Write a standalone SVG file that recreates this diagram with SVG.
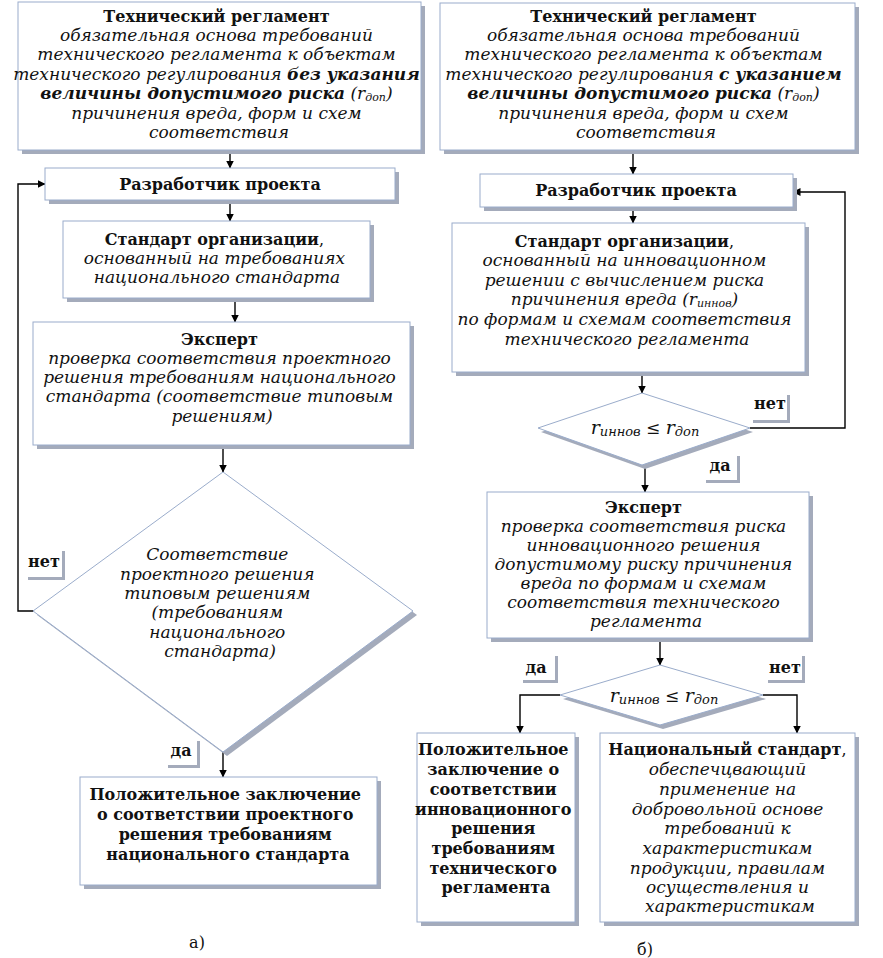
<svg xmlns="http://www.w3.org/2000/svg" width="883" height="958" viewBox="0 0 883 958">
<defs>
<style>
.box{fill:#fff;stroke:#9aaccb;stroke-width:1}
.sh{fill:#a4abbb}
.t{font-family:"DejaVu Serif","Liberation Serif",serif;font-size:16px;text-anchor:middle;fill:#111}
.b{font-weight:bold}
.i{font-style:italic;font-size:17px}
.sub{font-size:11px}
.lbl{font-family:"DejaVu Serif","Liberation Serif",serif;font-size:16px;font-weight:bold;text-anchor:middle;fill:#111}
.c{stroke:#000;stroke-width:1.4;fill:none}
.ca{stroke:#000;stroke-width:1.4;fill:none;marker-end:url(#ah)}
</style>
<marker id="ah" markerWidth="8" markerHeight="9" refX="7.5" refY="4.5" orient="auto" markerUnits="userSpaceOnUse">
<path d="M0,0.5 L8,4.5 L0,8.5 Z" fill="#000"/>
</marker>
</defs>
<rect width="883" height="958" fill="#fff"/>

<g id="connectors">
<path class="ca" d="M230,150 V168"/>
<path class="ca" d="M230,200 V221"/>
<path class="ca" d="M235,298 V322"/>
<path class="ca" d="M223,445 V472"/>
<path class="ca" d="M35,611 H18 V184 H45"/>
<path class="ca" d="M223,752 V777"/>
<path class="ca" d="M633,150 V174"/>
<path class="ca" d="M633,207 V223"/>
<path class="ca" d="M642,372 V393"/>
<path class="ca" d="M750,428 H845 V192 H793"/>
<path class="ca" d="M645,465 V492"/>
<path class="ca" d="M660,638 V665"/>
<path class="ca" d="M560,695 H520 V733"/>
<path class="ca" d="M763,695 H797 V733"/>
</g>

<g id="a-tech-reg">
<rect class="sh" x="22" y="6" width="403" height="148"/>
<rect class="box" x="18" y="2" width="403" height="148"/>
<text class="t"><tspan class="b" x="219" y="22">Технический регламент</tspan>
<tspan class="i" x="219" y="41">обязательная основа требований</tspan>
<tspan class="i" x="219" y="60">технического регламента к объектам</tspan>
<tspan class="i" x="219" y="80">технического регулирования <tspan class="b">без указания</tspan></tspan>
<tspan class="i" x="219" y="99"><tspan class="b">величины допустимого риска</tspan> (r<tspan class="sub" dy="2">доп</tspan><tspan dy="-2">)</tspan></tspan>
<tspan class="i" x="219" y="119">причинения вреда, форм и схем</tspan>
<tspan class="i" x="219" y="138">соответствия</tspan></text>
</g>

<g id="a-developer">
<rect class="sh" x="49" y="172" width="350" height="32"/>
<rect class="box" x="45" y="168" width="350" height="32"/>
<text class="t b" x="220" y="190">Разработчик проекта</text>
</g>

<g id="a-org-standard">
<rect class="sh" x="67" y="225" width="307" height="77"/>
<rect class="box" x="63" y="221" width="307" height="77"/>
<text class="t"><tspan x="217" y="245"><tspan class="b">Стандарт организации</tspan>,</tspan>
<tspan class="i" x="217" y="264">основанный на требованиях</tspan>
<tspan class="i" x="217" y="283">национального стандарта</tspan></text>
</g>

<g id="a-expert">
<rect class="sh" x="37" y="326" width="377" height="123"/>
<rect class="box" x="33" y="322" width="377" height="123"/>
<text class="t"><tspan class="b" x="222" y="345">Эксперт</tspan>
<tspan class="i" x="222" y="364">проверка соответствия проектного</tspan>
<tspan class="i" x="222" y="383">решения требованиям национального</tspan>
<tspan class="i" x="222" y="402">стандарта (соответствие типовым</tspan>
<tspan class="i" x="222" y="422">решениям)</tspan></text>
</g>

<g id="a-decision">
<polygon class="sh" points="227,476 417,615 227,756 37,615"/>
<polygon class="box" points="223,472 413,611 223,752 33,611"/>
<text class="t i"><tspan x="220" y="560">Соответствие</tspan>
<tspan x="220" y="580">проектного решения</tspan>
<tspan x="220" y="599">типовым решениям</tspan>
<tspan x="220" y="618">(требованиям</tspan>
<tspan x="220" y="638">национального</tspan>
<tspan x="220" y="657">стандарта)</tspan></text>
</g>

<g id="a-no-label">
<rect class="sh" x="28" y="551" width="37" height="29"/>
<rect x="25" y="548" width="37" height="29" fill="#fff"/>
<text class="lbl" x="44" y="567">нет</text>
</g>

<g id="a-yes-label">
<rect class="sh" x="168" y="741" width="32" height="27"/>
<rect x="165" y="738" width="32" height="27" fill="#fff"/>
<text class="lbl" x="181" y="756">да</text>
</g>

<g id="a-positive">
<rect class="sh" x="84" y="781" width="297" height="108"/>
<rect class="box" x="80" y="777" width="297" height="108"/>
<text class="t b" font-size="16.5"><tspan x="228" y="800">Положительное заключение</tspan>
<tspan x="228" y="820">о соответствии проектного</tspan>
<tspan x="228" y="840">решения требованиям</tspan>
<tspan x="228" y="860">национального стандарта</tspan></text>
</g>

<text class="t" x="197" y="948" font-size="17">а)</text>

<g id="b-tech-reg">
<rect class="sh" x="444" y="7" width="415" height="147"/>
<rect class="box" x="440" y="3" width="415" height="147"/>
<text class="t"><tspan class="b" x="646" y="22">Технический регламент</tspan>
<tspan class="i" x="646" y="41">обязательная основа требований</tspan>
<tspan class="i" x="646" y="60">технического регламента к объектам</tspan>
<tspan class="i" x="646" y="80">технического регулирования <tspan class="b">с указанием</tspan></tspan>
<tspan class="i" x="646" y="99"><tspan class="b">величины допустимого риска</tspan> (r<tspan class="sub" dy="2">доп</tspan><tspan dy="-2">)</tspan></tspan>
<tspan class="i" x="646" y="119">причинения вреда, форм и схем</tspan>
<tspan class="i" x="646" y="138">соответствия</tspan></text>
</g>

<g id="b-developer">
<rect class="sh" x="484" y="178" width="313" height="33"/>
<rect class="box" x="480" y="174" width="313" height="33"/>
<text class="t b" x="636" y="196">Разработчик проекта</text>
</g>

<g id="b-org-standard">
<rect class="sh" x="456" y="227" width="353" height="149"/>
<rect class="box" x="452" y="223" width="353" height="149"/>
<text class="t"><tspan x="627" y="247"><tspan class="b">Стандарт организации</tspan>,</tspan>
<tspan class="i" x="627" y="266">основанный на инновационном</tspan>
<tspan class="i" x="627" y="286">решении с вычислением риска</tspan>
<tspan class="i" x="627" y="305">причинения вреда (r<tspan class="sub" dy="2">иннов</tspan><tspan dy="-2">)</tspan></tspan>
<tspan class="i" x="627" y="325">по формам и схемам соответствия</tspan>
<tspan class="i" x="627" y="345">технического регламента</tspan></text>
</g>

<g id="b-decision1">
<polygon class="sh" points="645,397 753,432 645,469 541,432"/>
<polygon class="box" points="642,393 750,428 642,465 538,428"/>
<text class="t i" x="645" y="434"><tspan font-size="19">r</tspan><tspan font-size="13" dy="2">иннов</tspan><tspan dy="-2"> ≤ </tspan><tspan font-size="19">r</tspan><tspan font-size="13" dy="2">доп</tspan></text>
</g>

<g id="b-no-label1">
<rect class="sh" x="753" y="395" width="37" height="28"/>
<rect x="750" y="392" width="37" height="28" fill="#fff"/>
<text class="lbl" x="770" y="409">нет</text>
</g>

<g id="b-yes-label1">
<rect class="sh" x="706" y="456" width="34" height="27"/>
<rect x="703" y="453" width="34" height="27" fill="#fff"/>
<text class="lbl" x="720" y="471">да</text>
</g>

<g id="b-expert">
<rect class="sh" x="491" y="496" width="322" height="146"/>
<rect class="box" x="487" y="492" width="322" height="146"/>
<text class="t"><tspan class="b" x="646" y="513">Эксперт</tspan>
<tspan class="i" x="646" y="532">проверка соответствия риска</tspan>
<tspan class="i" x="646" y="551">инновационного решения</tspan>
<tspan class="i" x="646" y="570">допустимому риску причинения</tspan>
<tspan class="i" x="646" y="589">вреда по формам и схемам</tspan>
<tspan class="i" x="646" y="608">соответствия технического</tspan>
<tspan class="i" x="646" y="627">регламента</tspan></text>
</g>

<g id="b-decision2">
<polygon class="sh" points="663,669 766,699 663,729 563,699"/>
<polygon class="box" points="660,665 763,695 660,725 560,695"/>
<text class="t i" x="664" y="702"><tspan font-size="19">r</tspan><tspan font-size="13" dy="2">иннов</tspan><tspan dy="-2"> ≤ </tspan><tspan font-size="19">r</tspan><tspan font-size="13" dy="2">доп</tspan></text>
</g>

<g id="b-yes-label2">
<rect class="sh" x="523" y="656" width="35" height="27"/>
<rect x="520" y="653" width="35" height="27" fill="#fff"/>
<text class="lbl" x="536" y="673">да</text>
</g>

<g id="b-no-label2">
<rect class="sh" x="768" y="656" width="37" height="27"/>
<rect x="765" y="653" width="37" height="27" fill="#fff"/>
<text class="lbl" x="785" y="673">нет</text>
</g>

<g id="b-positive">
<rect class="sh" x="421" y="737" width="158" height="189"/>
<rect class="box" x="417" y="733" width="158" height="189"/>
<text class="t b"><tspan x="496" y="755">Положительное</tspan>
<tspan x="496" y="775">заключение о</tspan>
<tspan x="496" y="795">соответствии</tspan>
<tspan x="496" y="815">инновационного</tspan>
<tspan x="496" y="834">решения</tspan>
<tspan x="496" y="854">требованиям</tspan>
<tspan x="496" y="874">технического</tspan>
<tspan x="496" y="893">регламента</tspan></text>
</g>

<g id="b-national-standard">
<rect class="sh" x="604" y="737" width="255" height="189"/>
<rect class="box" x="600" y="733" width="255" height="189"/>
<text class="t"><tspan x="730" y="755"><tspan class="b">Национальный стандарт</tspan>,</tspan>
<tspan class="i" x="730" y="775">обеспечцвающий</tspan>
<tspan class="i" x="730" y="795">применение на</tspan>
<tspan class="i" x="730" y="815">добровольной основе</tspan>
<tspan class="i" x="730" y="834">требований к</tspan>
<tspan class="i" x="730" y="854">характеристикам</tspan>
<tspan class="i" x="730" y="874">продукции, правилам</tspan>
<tspan class="i" x="730" y="893">осуществления и</tspan>
<tspan class="i" x="730" y="912">характеристикам</tspan></text>
</g>

<text class="t" x="645" y="955" font-size="17">б)</text>
</svg>
